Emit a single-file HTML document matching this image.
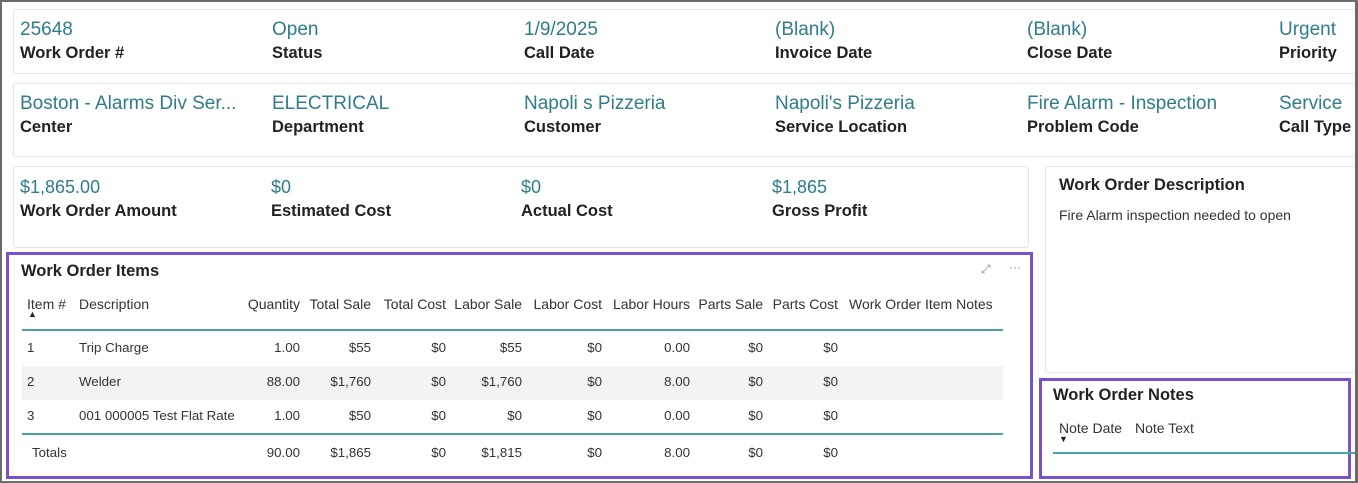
<!DOCTYPE html>
<html><head><meta charset="utf-8"><style>
*{margin:0;padding:0;box-sizing:border-box}
body{width:1358px;height:483px;overflow:hidden;background:#fff;font-family:"Liberation Sans",sans-serif;position:relative}
.frame{position:absolute;left:0;top:0;width:1358px;height:483px;border:2px solid #6b6b6b;border-right-width:3px;pointer-events:none;z-index:10}
.card{position:absolute;border:1px solid #e6e6e6;border-radius:3px;background:#fff}
.t{position:absolute;white-space:nowrap}
.v{color:#2f7c8a;font-size:19px}
.l{color:#222;font-size:16.5px;font-weight:bold}
.h{font-size:14px;color:#333}
.c{font-size:13.3px;color:#333}
.r{text-align:right}
.purple{position:absolute;border:3px solid #7a52c7}
.teal{position:absolute;height:2px;background:#4aa3a8}
</style></head><body>
<div class="frame"></div>

<div class="card" style="left:13px;top:9px;width:1350px;height:65px"></div>
<div class="t v" style="left:20px;top:19px">25648</div><div class="t l" style="left:20px;top:44px">Work Order #</div>
<div class="t v" style="left:272px;top:19px">Open</div><div class="t l" style="left:272px;top:44px">Status</div>
<div class="t v" style="left:524px;top:19px">1/9/2025</div><div class="t l" style="left:524px;top:44px">Call Date</div>
<div class="t v" style="left:775px;top:19px">(Blank)</div><div class="t l" style="left:775px;top:44px">Invoice Date</div>
<div class="t v" style="left:1027px;top:19px">(Blank)</div><div class="t l" style="left:1027px;top:44px">Close Date</div>
<div class="t v" style="left:1279px;top:19px">Urgent</div><div class="t l" style="left:1279px;top:44px">Priority</div>

<div class="card" style="left:13px;top:83px;width:1350px;height:74px"></div>
<div class="t v" style="left:20px;top:93px">Boston - Alarms Div Ser...</div><div class="t l" style="left:20px;top:118px">Center</div>
<div class="t v" style="left:272px;top:93px">ELECTRICAL</div><div class="t l" style="left:272px;top:118px">Department</div>
<div class="t v" style="left:524px;top:93px">Napoli s Pizzeria</div><div class="t l" style="left:524px;top:118px">Customer</div>
<div class="t v" style="left:775px;top:93px">Napoli's Pizzeria</div><div class="t l" style="left:775px;top:118px">Service Location</div>
<div class="t v" style="left:1027px;top:93px">Fire Alarm - Inspection</div><div class="t l" style="left:1027px;top:118px">Problem Code</div>
<div class="t v" style="left:1279px;top:93px">Service</div><div class="t l" style="left:1279px;top:118px">Call Type</div>

<div class="card" style="left:13px;top:166px;width:1016px;height:82px"></div>
<div class="t v" style="left:20px;top:177px;font-size:18px">$1,865.00</div><div class="t l" style="left:20px;top:202px">Work Order Amount</div>
<div class="t v" style="left:271px;top:177px;font-size:18px">$0</div><div class="t l" style="left:271px;top:202px">Estimated Cost</div>
<div class="t v" style="left:521px;top:177px;font-size:18px">$0</div><div class="t l" style="left:521px;top:202px">Actual Cost</div>
<div class="t v" style="left:772px;top:177px;font-size:18px">$1,865</div><div class="t l" style="left:772px;top:202px">Gross Profit</div>

<div class="card" style="left:1045px;top:166px;width:320px;height:207px"></div>
<div class="t l" style="left:1059px;top:176px;font-size:16.5px">Work Order Description</div>
<div class="t c" style="left:1059px;top:207px;font-size:14px">Fire Alarm inspection needed to open</div>

<div class="purple" style="left:6px;top:252px;width:1027px;height:227px"></div>
<div class="t l" style="left:21px;top:262px">Work Order Items</div>
<div class="t" style="left:981px;top:262px;font-size:12px;color:#888">⤢</div>
<div class="t" style="left:1009px;top:260px;font-size:12px;color:#888">···</div>
<div class="t h" style="left:27px;top:296px">Item #</div>
<div class="t" style="left:28px;top:309px;font-size:9px;color:#222">▲</div>
<div class="t h" style="left:79px;top:296px">Description</div>
<div class="t h r" style="left:210px;width:90px;top:296px">Quantity</div>
<div class="t h r" style="left:281px;width:90px;top:296px">Total Sale</div>
<div class="t h r" style="left:356px;width:90px;top:296px">Total Cost</div>
<div class="t h r" style="left:432px;width:90px;top:296px">Labor Sale</div>
<div class="t h r" style="left:502px;width:100px;top:296px">Labor Cost</div>
<div class="t h r" style="left:590px;width:100px;top:296px">Labor Hours</div>
<div class="t h r" style="left:663px;width:100px;top:296px">Parts Sale</div>
<div class="t h r" style="left:738px;width:100px;top:296px">Parts Cost</div>
<div class="t h" style="left:849px;top:296px">Work Order Item Notes</div>
<div class="teal" style="left:22px;top:329px;width:981px"></div>
<div style="position:absolute;left:22px;top:366px;width:981px;height:34px;background:#f3f3f3"></div>
<div class="teal" style="left:22px;top:433px;width:981px"></div>

<div class="t c" style="left:27px;top:340px">1</div><div class="t c" style="left:79px;top:340px">Trip Charge</div>
<div class="t c" style="left:27px;top:374px">2</div><div class="t c" style="left:79px;top:374px">Welder</div>
<div class="t c" style="left:27px;top:408px">3</div><div class="t c" style="left:79px;top:408px">001 000005 Test Flat Rate</div>
<div class="t c" style="left:32px;top:445px">Totals</div>

<div class="t c r" style="left:220px;width:80px;top:340px">1.00</div><div class="t c r" style="left:291px;width:80px;top:340px">$55</div><div class="t c r" style="left:366px;width:80px;top:340px">$0</div><div class="t c r" style="left:442px;width:80px;top:340px">$55</div><div class="t c r" style="left:512px;width:90px;top:340px">$0</div><div class="t c r" style="left:600px;width:90px;top:340px">0.00</div><div class="t c r" style="left:673px;width:90px;top:340px">$0</div><div class="t c r" style="left:748px;width:90px;top:340px">$0</div>
<div class="t c r" style="left:220px;width:80px;top:374px">88.00</div><div class="t c r" style="left:291px;width:80px;top:374px">$1,760</div><div class="t c r" style="left:366px;width:80px;top:374px">$0</div><div class="t c r" style="left:442px;width:80px;top:374px">$1,760</div><div class="t c r" style="left:512px;width:90px;top:374px">$0</div><div class="t c r" style="left:600px;width:90px;top:374px">8.00</div><div class="t c r" style="left:673px;width:90px;top:374px">$0</div><div class="t c r" style="left:748px;width:90px;top:374px">$0</div>
<div class="t c r" style="left:220px;width:80px;top:408px">1.00</div><div class="t c r" style="left:291px;width:80px;top:408px">$50</div><div class="t c r" style="left:366px;width:80px;top:408px">$0</div><div class="t c r" style="left:442px;width:80px;top:408px">$0</div><div class="t c r" style="left:512px;width:90px;top:408px">$0</div><div class="t c r" style="left:600px;width:90px;top:408px">0.00</div><div class="t c r" style="left:673px;width:90px;top:408px">$0</div><div class="t c r" style="left:748px;width:90px;top:408px">$0</div>
<div class="t c r" style="left:220px;width:80px;top:445px">90.00</div><div class="t c r" style="left:291px;width:80px;top:445px">$1,865</div><div class="t c r" style="left:366px;width:80px;top:445px">$0</div><div class="t c r" style="left:442px;width:80px;top:445px">$1,815</div><div class="t c r" style="left:512px;width:90px;top:445px">$0</div><div class="t c r" style="left:600px;width:90px;top:445px">8.00</div><div class="t c r" style="left:673px;width:90px;top:445px">$0</div><div class="t c r" style="left:748px;width:90px;top:445px">$0</div>

<div class="purple" style="left:1039px;top:378px;width:312px;height:101px"></div>
<div class="t l" style="left:1053px;top:386px">Work Order Notes</div>
<div class="t h" style="left:1059px;top:420px">Note Date</div>
<div class="t" style="left:1059px;top:434px;font-size:9px;color:#222">▼</div>
<div class="t h" style="left:1135px;top:420px">Note Text</div>
<div class="teal" style="left:1053px;top:452px;width:305px"></div>
</body></html>
